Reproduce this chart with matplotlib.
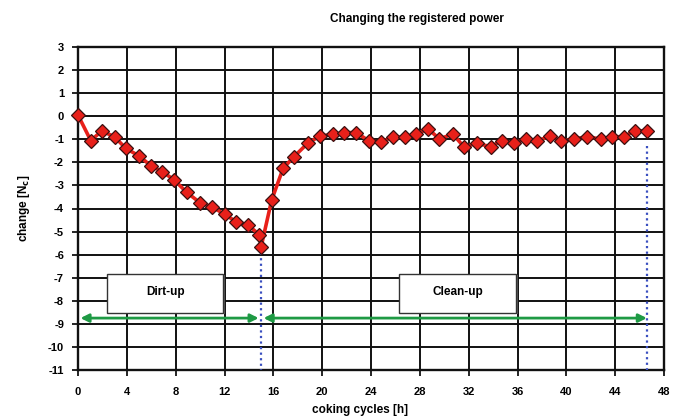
import matplotlib
matplotlib.use("Agg")
import matplotlib.pyplot as plt
from matplotlib.patches import Rectangle

plt.rcParams['font.family'] = ['Liberation Sans', 'DejaVu Sans']

# Data
hours = [0, 1.05, 1.93, 3.0, 3.9, 5.0, 6.0, 6.9, 7.9, 8.9, 10.0, 10.95, 12.0, 12.95,
         13.96, 14.86, 15.0, 15.86, 16.8, 17.7, 18.8, 19.8, 20.9, 21.8, 22.8, 23.8,
         24.8, 25.8, 26.8, 27.7, 28.7, 29.6, 30.7, 31.6, 32.7, 33.8, 34.7, 35.7,
         36.7, 37.6, 38.7, 39.6, 40.6, 41.7, 42.8, 43.7, 44.7, 45.6, 46.6]
change = [0.05, -1.06, -0.64, -0.89, -1.39, -1.72, -2.16, -2.4, -2.77, -3.3, -3.75,
          -3.92, -4.25, -4.57, -4.72, -5.15, -5.66, -3.64, -2.26, -1.75, -1.18, -0.86,
          -0.79, -0.71, -0.71, -1.06, -1.13, -0.89, -0.92, -0.77, -0.55, -0.99, -0.77,
          -1.32, -1.18, -1.32, -1.06, -1.15, -0.99, -1.07, -0.86, -1.07, -0.99, -0.89,
          -0.99, -0.89, -0.89, -0.63, -0.64]
x_ticks = list(range(0, 49, 4))
y_ticks = list(range(-11, 4))
phase_labels = ["Dirt-up", "Clean-up"]
phase_bounds = [(0.2, 14.8), (15.2, 46.6)]
phase_box_x = [(2.4, 11.9), (26.3, 35.9)]
marker_lines = [(15.0, -5.66), (46.6, -1.3)]

fig = plt.figure(figsize=(6.78, 4.2), dpi=100)
ax = fig.add_axes([78/678, 1-370/420, (664-78)/678, (370-47)/420])
ax.set_xlim(0, 48)
ax.set_ylim(-11, 3)
ax.set_xticks(x_ticks)
ax.set_yticks(y_ticks)
ax.set_xticklabels([str(t) for t in x_ticks], fontweight='bold', fontsize=8)
ax.set_yticklabels([str(t) for t in y_ticks], fontweight='bold', fontsize=8)
ax.tick_params(axis='both', length=4, width=1.2, color='black')
ax.tick_params(axis='x', pad=8)
ax.tick_params(axis='y', pad=6)
ax.grid(True, color='#111111', linewidth=1.4)
ax.set_axisbelow(True)
for s in ax.spines.values():
    s.set_linewidth(1.7)
    s.set_color('#111111')

# dotted blue lines
for xv, ytop in marker_lines:
    ax.plot([xv, xv], [ytop, -11], linestyle=(0, (1, 1.5)), color='#3a4fc0',
            linewidth=1.6, zorder=3)

# boxes
for lab, (x0, x1) in zip(phase_labels, phase_box_x):
    shadow = Rectangle((x0 + 0.15, -8.58), x1 - x0, 1.7, facecolor='#555555',
                       edgecolor='none', zorder=4)
    ax.add_patch(shadow)
    box = Rectangle((x0, -8.52), x1 - x0, 1.7, facecolor='white',
                    edgecolor='#333333', linewidth=1.0, zorder=5)
    ax.add_patch(box)
    ax.text((x0 + x1) / 2, -7.6, lab, ha='center', va='center', fontsize=8.5,
            fontweight='bold', zorder=6)

# arrows
for (x0, x1) in phase_bounds:
    ax.annotate('', xy=(x1, -8.75), xytext=(x0, -8.75),
                arrowprops=dict(arrowstyle='<|-|>', color='#1e9a44', lw=2.0,
                                mutation_scale=12, shrinkA=0, shrinkB=0), zorder=6)

ax.plot(hours, change, color='#e8201a', linewidth=2.6, marker='D', markersize=7.5,
        markerfacecolor='#e8201a', markeredgecolor='#3a1010', markeredgewidth=0.9,
        zorder=7, clip_on=False)

fig.text(417/678, 1-19/420, 'Changing the registered power', ha='center', va='center',
         fontsize=8.5, fontweight='bold')
fig.text(360/678, 1-410/420, 'coking cycles [h]', ha='center', va='center',
         fontsize=8.5, fontweight='bold')
fig.text(24/678, 1-208/420, 'change [N$_\\mathbf{c}$]', ha='center', va='center',
         fontsize=8.5, fontweight='bold', rotation=90)

fig.savefig('out.png', dpi=100)
